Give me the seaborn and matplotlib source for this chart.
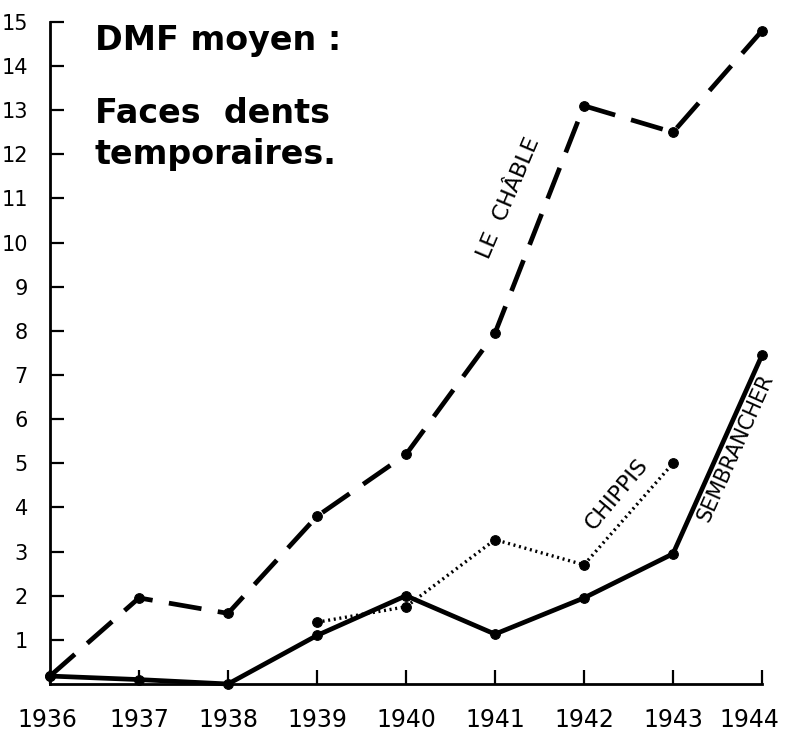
import matplotlib
matplotlib.use("Agg")
import matplotlib.pyplot as plt
import matplotlib.transforms as mtransforms
import seaborn as sns
import pandas as pd

years = [1936, 1937, 1938, 1939, 1940, 1941, 1942, 1943, 1944]
le_chable = [0.18, 1.95, 1.6, 3.8, 5.2, 7.95, 13.1, 12.5, 14.8]
sembrancher = [0.18, 0.1, 0.0, 1.1, 2.0, 1.13, 1.95, 2.95, 7.45]
chippis_years = [1939, 1940, 1941, 1942, 1943]
chippis = [1.4, 1.75, 3.27, 2.7, 5.0]
yticks = list(range(1, 16))

sns.set_theme(style="white")
plt.rcParams['font.family'] = ['DejaVu Sans']
plt.rcParams['text.color'] = 'black'

fig = plt.figure(figsize=(7.85, 7.31), dpi=100)
ax = fig.add_axes([0.0637, 0.0643, 0.9070, 0.9057])

df_lc = pd.DataFrame({"year": years, "v": le_chable})
df_se = pd.DataFrame({"year": years, "v": sembrancher})
df_ch = pd.DataFrame({"year": chippis_years, "v": chippis})

mk = dict(marker="o", markersize=7, markeredgecolor="black", markerfacecolor="black")
sns.lineplot(data=df_lc, x="year", y="v", ax=ax, color="black", lw=3.4,
             clip_on=False, **mk)
ax.lines[-1].set_dashes((7, 3.5))
sns.lineplot(data=df_se, x="year", y="v", ax=ax, color="black", lw=3.4,
             clip_on=False, **mk)
sns.lineplot(data=df_ch, x="year", y="v", ax=ax, color="black", lw=2.4,
             clip_on=False, **mk)
ax.lines[-1].set_linestyle((0, (0.6, 1.1)))

ax.set_xlim(1936, 1944)
ax.set_ylim(0, 15)
ax.set_xticks(years)
ax.set_xticklabels([str(y) for y in years], fontsize=17)
ax.set_yticks(yticks)
ax.set_yticklabels([str(t) for t in yticks], fontsize=15)
ax.set_xlabel("")
ax.set_ylabel("")
ax.tick_params(axis="both", direction="in", length=10, width=1.6, color="black",
               labelcolor="black")
ax.tick_params(axis="x", pad=17, bottom=True)
ax.tick_params(axis="y", pad=16, left=True)
for s in ["top", "right"]:
    ax.spines[s].set_visible(False)
for s in ["left", "bottom"]:
    ax.spines[s].set_color("black")
    ax.spines[s].set_linewidth(2)

labs = ax.get_xticklabels()
shift = mtransforms.ScaledTranslation(-9 / 72, 0, fig.dpi_scale_trans)
labs[-1].set_transform(labs[-1].get_transform() + shift)
labs0 = mtransforms.ScaledTranslation(-2 / 72, 0, fig.dpi_scale_trans)
labs[0].set_transform(labs[0].get_transform() + labs0)

ax.text(1936.5, 14.95, "DMF moyen :", fontsize=24, fontweight="bold", va="top", ha="left")
ax.text(1936.5, 13.3, "Faces  dents\ntemporaires.", fontsize=24, fontweight="bold",
        va="top", ha="left", linespacing=1.3)

ax.text(1941.15, 11.0, "LE  CHÂBLE", fontsize=16, rotation=67, ha="center", va="center")
ax.text(1942.37, 4.3, "CHIPPIS", fontsize=16, rotation=50, ha="center", va="center")
ax.text(1943.7, 5.35, "SEMBRANCHER", fontsize=15, rotation=66, ha="center", va="center")

fig.savefig("out.png", dpi=100, facecolor="white")
